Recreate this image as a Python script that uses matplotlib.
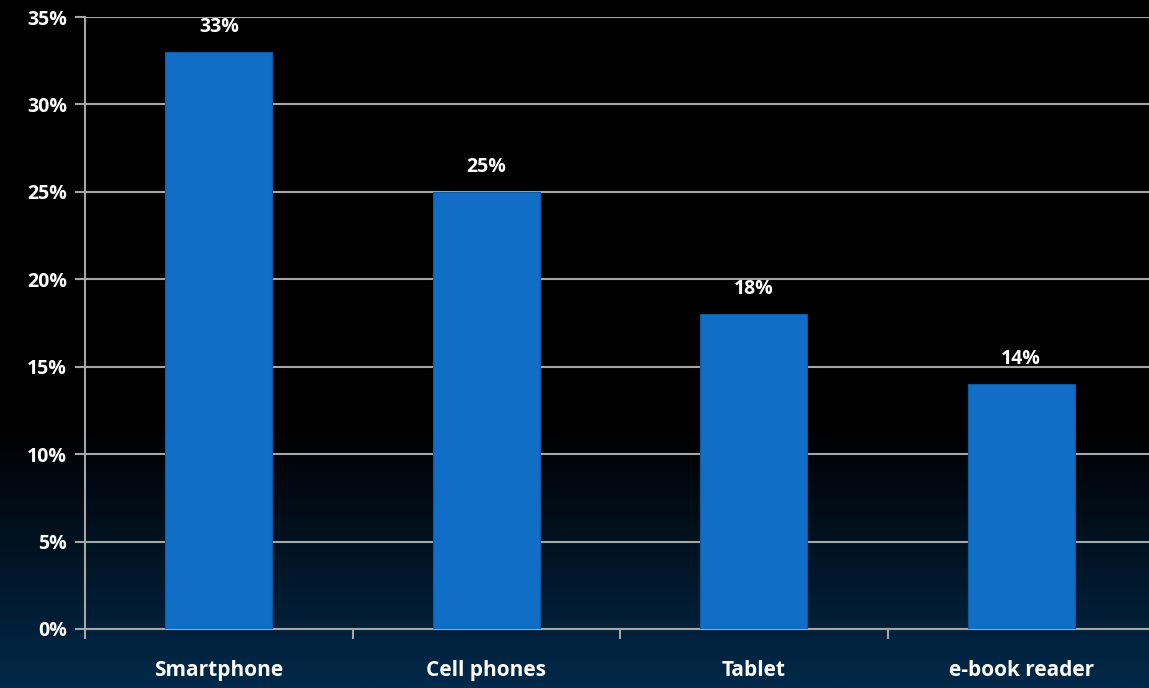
import numpy as np
import matplotlib
matplotlib.use("Agg")
import matplotlib.pyplot as plt
from matplotlib.colors import LinearSegmentedColormap

categories = ["Smartphone", "Cell phones", "Tablet", "e-book reader"]
values = [33, 25, 18, 14]
yticks = [0, 5, 10, 15, 20, 25, 30, 35]

plt.rcParams['font.family'] = ['Open Sans', 'DejaVu Sans']

fig = plt.figure(figsize=(11.49, 6.88), dpi=100)
fig.patch.set_facecolor('black')

# background gradient
bg = fig.add_axes([0, 0, 1, 1], zorder=0)
cmap = LinearSegmentedColormap.from_list('bg', [(0, '#000000'), (0.62, '#000000'), (1.0, '#02294a')])
grad = np.linspace(0, 1, 512).reshape(-1, 1)
bg.imshow(grad, aspect='auto', cmap=cmap, extent=[0, 1, 1, 0])
bg.axis('off')

ax = fig.add_axes([85/1149, 1-629/688, 1070/1149, (629-17)/688], zorder=1)
ax.patch.set_alpha(0)
x = np.arange(len(categories))
bars = ax.bar(x, values, width=0.4, color='#106ec6', edgecolor='#0d5aa0', linewidth=0.8, zorder=3)
ax.set_xlim(-0.5, 3.5)
ax.set_ylim(0, 35)
ax.set_yticks(yticks)
ax.set_yticklabels([f"{v}%" for v in yticks], fontsize=14, fontweight='bold', color='white')
ax.yaxis.grid(True, color='#a6a6a6', linewidth=1.5, zorder=1)
ax.set_axisbelow(True)

ax.set_xticks(x)
ax.set_xticklabels(categories, fontsize=15, fontweight='bold', color='white')
ax.set_xticks(np.arange(-0.5, 3.5, 1.0), minor=True)
ax.tick_params(axis='x', which='major', length=0, pad=22)
ax.tick_params(axis='x', which='minor', length=7, width=1.5, color='#a6a6a6', direction='out')
ax.tick_params(axis='y', length=7, width=1.5, color='#a6a6a6', pad=6)

for s in ['top', 'right']:
    ax.spines[s].set_visible(False)
ax.spines['left'].set_color('#a6a6a6')
ax.spines['left'].set_linewidth(1.5)
ax.spines['bottom'].set_color('#a6a6a6')
ax.spines['bottom'].set_linewidth(1.5)

for xi, v in zip(x, values):
    ax.annotate(f"{v}%", (xi, v), xytext=(0, 11), textcoords='offset points',
                ha='center', va='bottom', fontsize=14, fontweight='bold', color='white')

fig.savefig('out.png', dpi=100, facecolor=fig.get_facecolor())
